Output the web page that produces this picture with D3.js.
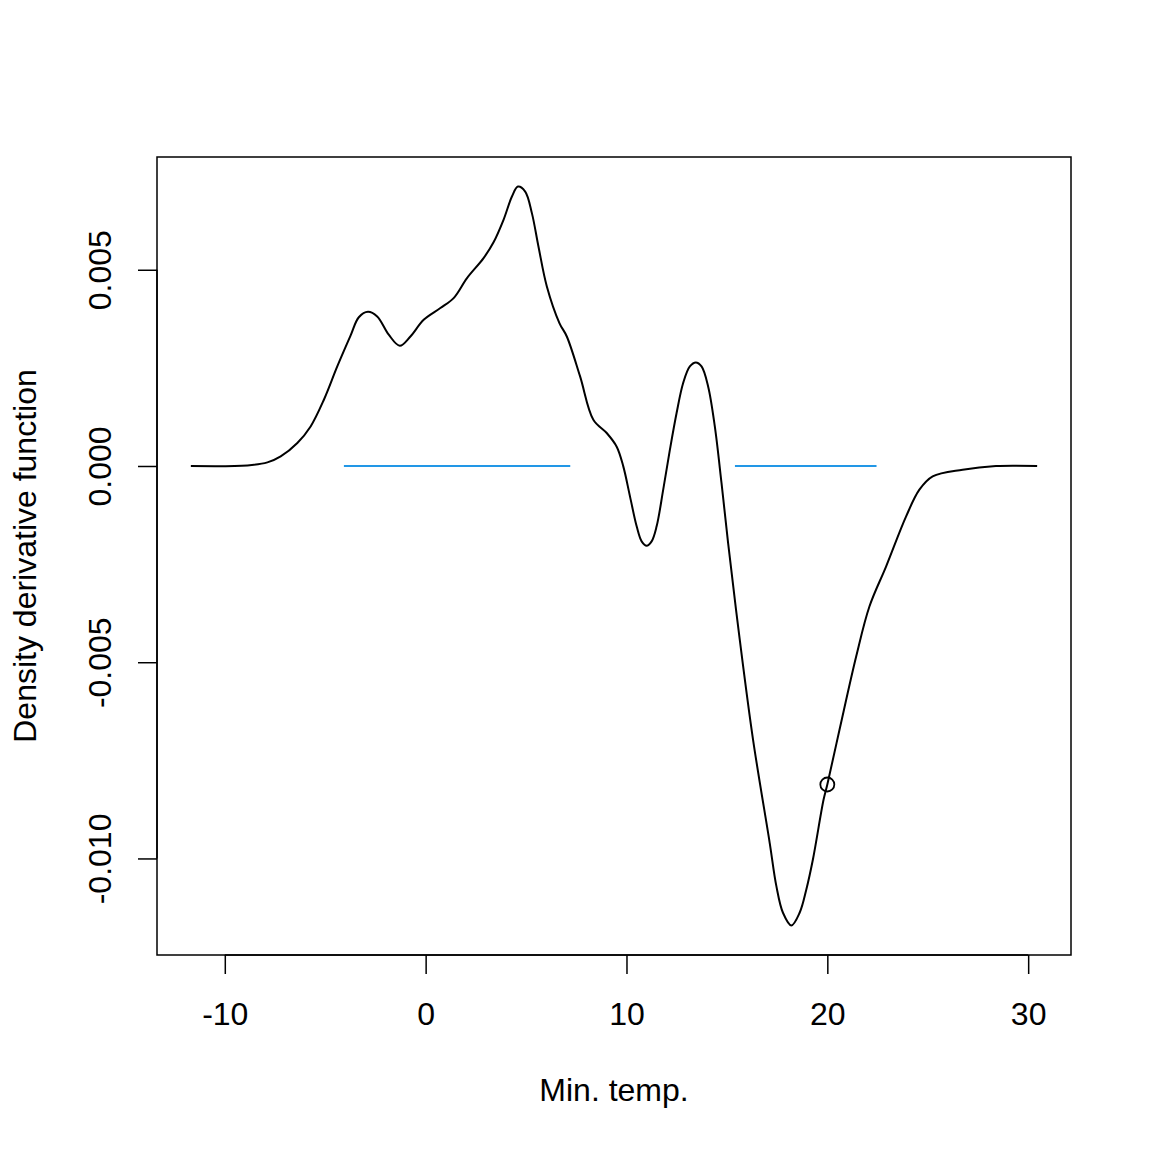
<!DOCTYPE html>
<html>
<head>
<meta charset="utf-8">
<script src="https://cdn.jsdelivr.net/npm/d3@7"></script>
<style>
  html, body { margin: 0; padding: 0; background: #fff; }
  text { font-family: "Liberation Sans", Arial, sans-serif; fill: #000; }
</style>
</head>
<body>
<svg id="chart" width="1152" height="1152"></svg>
<script>
// density derivative curve
var tempX = [-11.69, -8.872, -7.878, -7.217, -6.388, -5.727, -5.066, -4.400, -3.739, -3.327, -2.870, -2.412,
    -1.836, -1.289, -0.758, -0.097, 0.733, 1.394, 2.060, 2.884, 3.381, 3.878, 4.296, 4.594, 4.957, 5.290,
    5.617, 6.035, 6.661, 7.029, 7.690, 8.350, 9.016, 9.513, 9.841, 10.174, 10.507, 10.755, 11.004, 11.252,
    11.501, 11.829, 12.162, 12.495, 12.822, 13.155, 13.453, 13.737, 14.065, 14.398, 14.731, 15.059, 15.640,
    16.301, 17.130, 17.463, 17.791, 18.209, 18.621, 18.954, 19.282, 19.814, 20.0, 20.609, 21.439, 22.100,
    22.929, 23.923, 24.584, 25.245, 26.736, 28.396, 30.447];
var derivY = [0, 0.0000153, 0.0000917, 0.000244, 0.000586, 0.001008, 0.001688, 0.002536, 0.00332, 0.00379,
    0.00393, 0.00381, 0.003344, 0.003064, 0.0033, 0.003726, 0.004024, 0.004278, 0.004788, 0.005297, 0.0057,
    0.006273, 0.006866, 0.00712, 0.006993, 0.006443, 0.005593, 0.004574, 0.003642, 0.0033, 0.002282,
    0.001179, 0.00084, 0.000492, -0.00001, -0.000774, -0.001538, -0.00192, -0.00203, -0.00192, -0.001538,
    -0.000604, 0.000415, 0.00135, 0.002114, 0.002536, 0.002638, 0.002536, 0.002027, 0.001008, -0.000433,
    -0.001961, -0.004424, -0.00697, -0.009601, -0.010706, -0.011384, -0.011707, -0.011384, -0.01079,
    -0.010026, -0.008498, -0.008116, -0.006716, -0.004849, -0.003575, -0.002557, -0.001284, -0.000604,
    -0.000265, -0.000094, 0, 0];

// significant regions drawn at y = 0
var segStart = [-4.07, 15.40];
var segEnd = [7.20, 22.45];

// marked point
var pointX = [20];
var pointY = [-0.008116];

var xTicks = [-10, 0, 10, 20, 30];
var xTickLabels = ["-10", "0", "10", "20", "30"];
var yTicks = [-0.010, -0.005, 0.000, 0.005];
var yTickLabels = ["-0.010", "-0.005", "0.000", "0.005"];

var plotL = 157, plotR = 1071, plotT = 157, plotB = 955;
var fontPx = 32;

var svg = d3.select("#chart");

// R style 4% extension of the data range
var xr = d3.extent(tempX), yr = d3.extent(derivY);
var xpad = (xr[1] - xr[0]) * 0.04, ypad = (yr[1] - yr[0]) * 0.04;
var x = d3.scaleLinear().domain([xr[0] - xpad, xr[1] + xpad]).range([plotL, plotR]);
var y = d3.scaleLinear().domain([yr[0] - ypad, yr[1] + ypad]).range([plotB, plotT]);

var pts = tempX.map(function(d, i) { return [d, derivY[i]]; });

svg.append("path")
    .datum(pts)
    .attr("fill", "none")
    .attr("stroke", "#000")
    .attr("stroke-width", 2)
    .attr("stroke-linejoin", "round")
    .attr("d", d3.line()
        .x(function(d) { return x(d[0]); })
        .y(function(d) { return y(d[1]); })
        .curve(d3.curveCatmullRom.alpha(0.5)));

svg.selectAll("line.seg")
    .data(segStart)
    .enter()
    .append("line")
    .attr("class", "seg")
    .attr("x1", function(d) { return x(d); })
    .attr("x2", function(d, i) { return x(segEnd[i]); })
    .attr("y1", y(0))
    .attr("y2", y(0))
    .attr("stroke", "#2297E6")
    .attr("stroke-width", 2);

svg.selectAll("circle.pt")
    .data(pointX)
    .enter()
    .append("circle")
    .attr("class", "pt")
    .attr("cx", function(d) { return x(d); })
    .attr("cy", function(d, i) { return y(pointY[i]); })
    .attr("r", 7)
    .attr("fill", "none")
    .attr("stroke", "#000")
    .attr("stroke-width", 1.8);

// box
svg.append("rect")
    .attr("x", plotL).attr("y", plotT)
    .attr("width", plotR - plotL).attr("height", plotB - plotT)
    .attr("fill", "none").attr("stroke", "#000").attr("stroke-width", 1.5);

var xAxis = svg.append("g")
    .attr("transform", "translate(0," + plotB + ")")
    .call(d3.axisBottom(x).tickValues(xTicks).tickSize(19).tickPadding(28)
        .tickFormat(function(d, i) { return xTickLabels[i]; }));
xAxis.select(".domain").attr("d", "M" + x(xTicks[0]) + ",0H" + x(xTicks[xTicks.length - 1]));

var yAxis = svg.append("g")
    .attr("transform", "translate(" + plotL + ",0)")
    .call(d3.axisLeft(y).tickValues(yTicks).tickSize(19).tickFormat(function(d, i) { return yTickLabels[i]; }));
yAxis.select(".domain").attr("d", "M0," + y(yTicks[0]) + "V" + y(yTicks[yTicks.length - 1]));

svg.selectAll(".tick line, .domain").attr("stroke", "#000").attr("stroke-width", 1.5);
svg.selectAll(".tick text").style("font-size", fontPx + "px").style("font-family", "Liberation Sans, Arial, sans-serif");

yAxis.selectAll(".tick text")
    .attr("x", null).attr("dy", null)
    .attr("text-anchor", "middle")
    .attr("transform", "translate(-46,0) rotate(-90)");

svg.append("text")
    .attr("x", (plotL + plotR) / 2)
    .attr("y", 1101)
    .attr("text-anchor", "middle")
    .style("font-size", fontPx + "px")
    .text("Min. temp.");

svg.append("text")
    .attr("transform", "translate(36," + ((plotT + plotB) / 2) + ") rotate(-90)")
    .attr("text-anchor", "middle")
    .style("font-size", fontPx + "px")
    .text("Density derivative function");
</script>
</body>
</html>
